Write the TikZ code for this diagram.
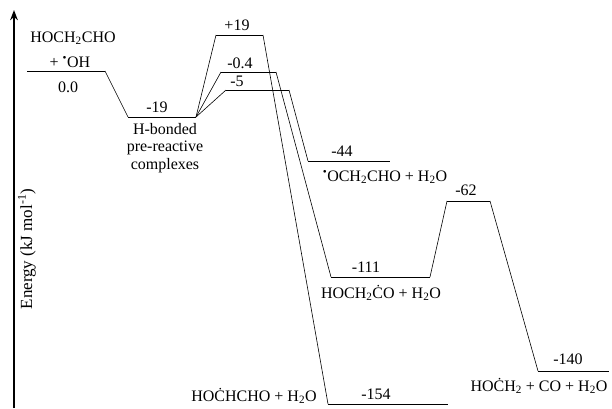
\documentclass[tikz,border=0pt]{standalone}
\usepackage{fontspec}
\setmainfont{Liberation Serif}
\usetikzlibrary{arrows.meta,positioning}
% Radikalpunkt links
\newcommand{\radleft}{\textsuperscript{\textbullet}}

\begin{document}
\begin{tikzpicture}[
        x=1pt, y=-1pt,
        >=Stealth,
        every node/.style={font=\fontsize{16}{18}\selectfont, inner sep=1pt},
        lvl/.style={line width=0.75pt},
        link/.style={line width=0.6pt}
    ]
        \useasboundingbox (0,0) rectangle (612,408);
        % Energieachse
        \draw[->, line width=1.6pt] (14,408) -- (14,10);
        \node[rotate=90, font=\fontsize{17}{19}\selectfont] (ylab) at (27,249) {Energy (kJ mol\textsuperscript{-1})};
        % Niveaus
        \foreach \n/\xa/\xb/\y in {R/27/105/71, PC/128/196/117, TSa/216/263/35,
            TSb/221/276/72, TSc/226/289/90, Pa/308/390/161, Pb/331/430/277,
            TSd/447/490/201, Pc/538/609/371, Pd/328/448/404} {
            \coordinate (\n-l) at (\xa,\y);
            \coordinate (\n-r) at (\xb,\y);
            \draw[lvl] (\n-l) -- (\n-r);
        }
        % Verbindungen
        \draw[link] (R-r) -- (PC-l);
        \foreach \t in {TSa, TSb, TSc} {
            \draw[link] (PC-r) -- (\t-l);
        }
        \draw[link] (TSa-r) -- (Pd-l);
        \draw[link] (TSb-r) -- (Pb-l);
        \draw[link] (TSc-r) -- (Pa-l);
        \draw[link] (Pb-r) -- (TSd-l);
        \draw[link] (TSd-r) -- (Pc-l);
        % Beschriftungen
        \node (reac1) at (73,38) {HOCH\textsubscript{2}CHO};
        \node (reac2) at (70,62) {+ \radleft OH};
        \node (eR) at (68,87) {0.0};
        \node (ePC) at (157,107) {-19};
        \node[align=center, font=\fontsize{16}{17.5}\selectfont] (pc) at (165,148) {H-bonded\\pre-reactive\\complexes};
        \node (eTSa) at (237,25) {+19};
        \node (eTSb) at (240,63) {-0.4};
        \node (eTSc) at (237,81) {-5};
        \node (ePa) at (342,151) {-44};
        \node (pa) at (385,177) {\radleft OCH\textsubscript{2}CHO + H\textsubscript{2}O};
        \node (ePb) at (366,267) {-111};
        \node (pb) at (381,293) {HOCH\textsubscript{2}ĊO + H\textsubscript{2}O};
        \node (eTSd) at (466,190) {-62};
        \node (ePc) at (568,359) {-140};
        \node (pc2) at (539,386) {HOĊH\textsubscript{2} + CO + H\textsubscript{2}O};
        \node (ePd) at (376,394) {-154};
        \node (pd) at (254,396) {HOĊHCHO + H\textsubscript{2}O};
    \end{tikzpicture}
\end{document}
